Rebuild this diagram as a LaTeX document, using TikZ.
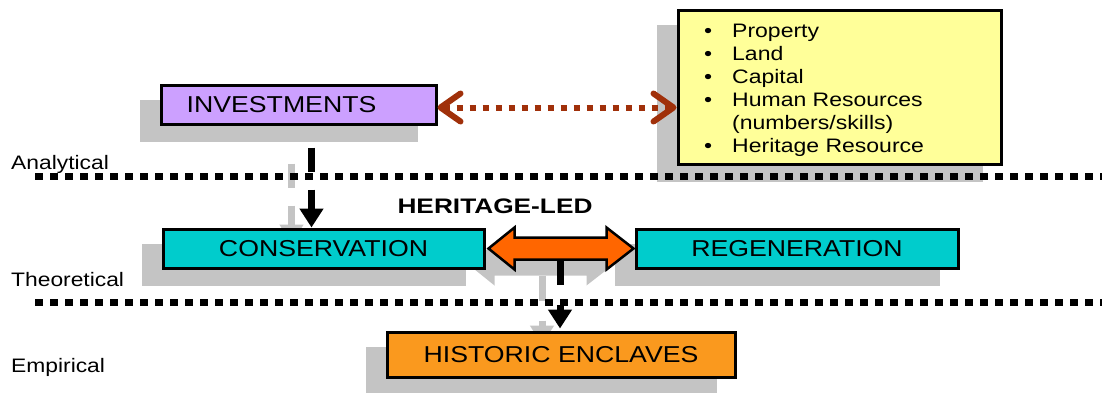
\documentclass[tikz,border=0pt]{standalone}
\usepackage{fontspec}
\setmainfont{Liberation Sans}
\newfontfamily\boxf{Liberation Sans}[FakeStretch=1.16]
\newfontfamily\labf{Liberation Sans}[FakeStretch=1.17]
\newfontfamily\listf{Liberation Sans}[FakeStretch=1.18]
\newfontfamily\headf{Liberation Sans}[FakeStretch=1.25]
\usetikzlibrary{arrows.meta,calc,backgrounds}
\definecolor{shade}{RGB}{196,196,196}
\definecolor{lav}{RGB}{204,160,255}
\definecolor{tealbox}{RGB}{0,204,204}
\definecolor{ylw}{RGB}{255,255,153}
\definecolor{orgbox}{RGB}{250,153,30}
\definecolor{orgarr}{RGB}{255,102,0}
\definecolor{brn}{RGB}{160,48,10}
\newcommand\bul{\makebox[28pt][l]{\textbullet}}
\newcommand\darrowp[2]{(#1) -- ++(26,-21) -- ++(0,10) -- ($(#2)+(-27,-11)$) -- ++(0,-10) -- (#2) -- ++(-27,21) -- ++(0,-10) -- ($(#1)+(26,11)$) -- ++(0,10) -- cycle}
\begin{document}
\begin{tikzpicture}[x=1pt,y=-1pt,
  box/.style={draw=black, line width=3pt, inner sep=0pt, anchor=north west, font=\boxf\fontsize{23}{26}\selectfont},
  lab/.style={inner sep=0pt, anchor=base west, font=\labf\fontsize{19.5}{22}\selectfont},
  blk/.style={line width=7pt, -{Triangle[length=19pt,width=23pt]}},
  sepline/.style={line width=7pt, dash pattern=on 8pt off 7pt},
  brnarr/.style={draw=brn, line width=6pt, dash pattern=on 6pt off 7pt,
     {Straight Barb[length=20pt,width=28pt,round]}-{Straight Barb[length=20pt,width=28pt,round]}},
  darr/.style={fill=orgarr, draw=black, line width=2.5pt, line join=miter},
  shadowfill/.style={fill=shade}
]
\useasboundingbox (0,0) rectangle (1102,392);

% boxes
\node[box, fill=lav, minimum width=275pt, minimum height=39pt] (inv) at (159.5,83.5) {INVESTMENTS\hspace*{34pt}};
\node[box, fill=ylw, minimum width=323pt, minimum height=154pt] (res) at (676.5,8.5) {};
\node[box, fill=tealbox, minimum width=321pt, minimum height=39pt] (cons) at (161.5,227.5) {CONSERVATION};
\node[box, fill=tealbox, minimum width=322pt, minimum height=39pt] (reg) at (634.5,227.5) {REGENERATION};
\node[box, fill=orgbox, minimum width=348pt, minimum height=45pt] (enc) at (385.5,330.5) {HISTORIC ENCLAVES};

% list
\node[anchor=north west, inner sep=0pt, align=left, font=\listf\fontsize{19.5}{23}\selectfont] (list) at (704,23.5)
  {\bul Property\\ \bul Land\\ \bul Capital\\ \bul Human Resources\\ \hspace*{28pt}(numbers/skills)\\ \bul Heritage Resource};

% labels
\node[lab] (analytical) at (11,169) {Analytical};
\node[lab] (theoretical) at (11,286) {Theoretical};
\node[lab] (empirical) at (11,372) {Empirical};
\node[inner sep=0pt, anchor=base, font=\headf\bfseries\fontsize{21}{24}\selectfont] (hl) at (495,213.5) {HERITAGE-LED};

% coordinates
\coordinate (dl) at ($(cons.east)+(3,0)$);
\coordinate (dr) at ($(reg.west)+(-1,0)$);
\coordinate (dls) at ($(dl)+(-20,16)$);
\coordinate (drs) at ($(dr)+(-20,16)$);
\coordinate (dab) at ($(dl)!0.5!(dr)+(-1,11)$);
\coordinate (dae) at (dab |- enc.north);
\coordinate (a1s) at ($(inv.south west)+(152,0)$);
\coordinate (a1e) at (a1s |- cons.north);
\coordinate (b1) at ($(inv.east)+(0,3)$);
\coordinate (sepA1) at (35,176.5);
\coordinate (sepA2) at (1102,176.5);
\coordinate (sepB1) at (35,302.5);
\coordinate (sepB2) at (1102,302.5);

\begin{scope}[on background layer]
  \foreach \n in {inv,res,cons,reg,enc}
    \fill[shadowfill] ($(\n.north west)+(-20,16)$) rectangle ($(\n.south east)+(-20,16)$);
  \fill[shadowfill] \darrowp{dls}{drs};
  \draw[blk, draw=shade, dash pattern=on 0pt off 22pt on 24pt off 18pt on 200pt]
    ($(a1s)+(-20,16)$) -- ($(a1e)+(-20,16)$);
  \draw[blk, draw=shade, dash pattern=on 25pt off 20pt on 200pt, shorten >=2pt]
    ($(dab)+(-18,16)$) -- ($(dae)+(-18,16)$);
  \draw[sepline] (sepA1) -- (sepA2);
  \draw[sepline] (sepB1) -- (sepB2);
\end{scope}

% connectors
\draw[darr] \darrowp{dl}{dr};
\draw[blk, dash pattern=on 0pt off 22pt on 24pt off 18pt on 200pt] (a1s) -- (a1e);
\draw[blk, dash pattern=on 25pt off 20pt on 200pt, shorten >=2pt] (dab) -- (dae);
\draw[brnarr] (b1) -- (b1 -| res.west);
\end{tikzpicture}
\end{document}
